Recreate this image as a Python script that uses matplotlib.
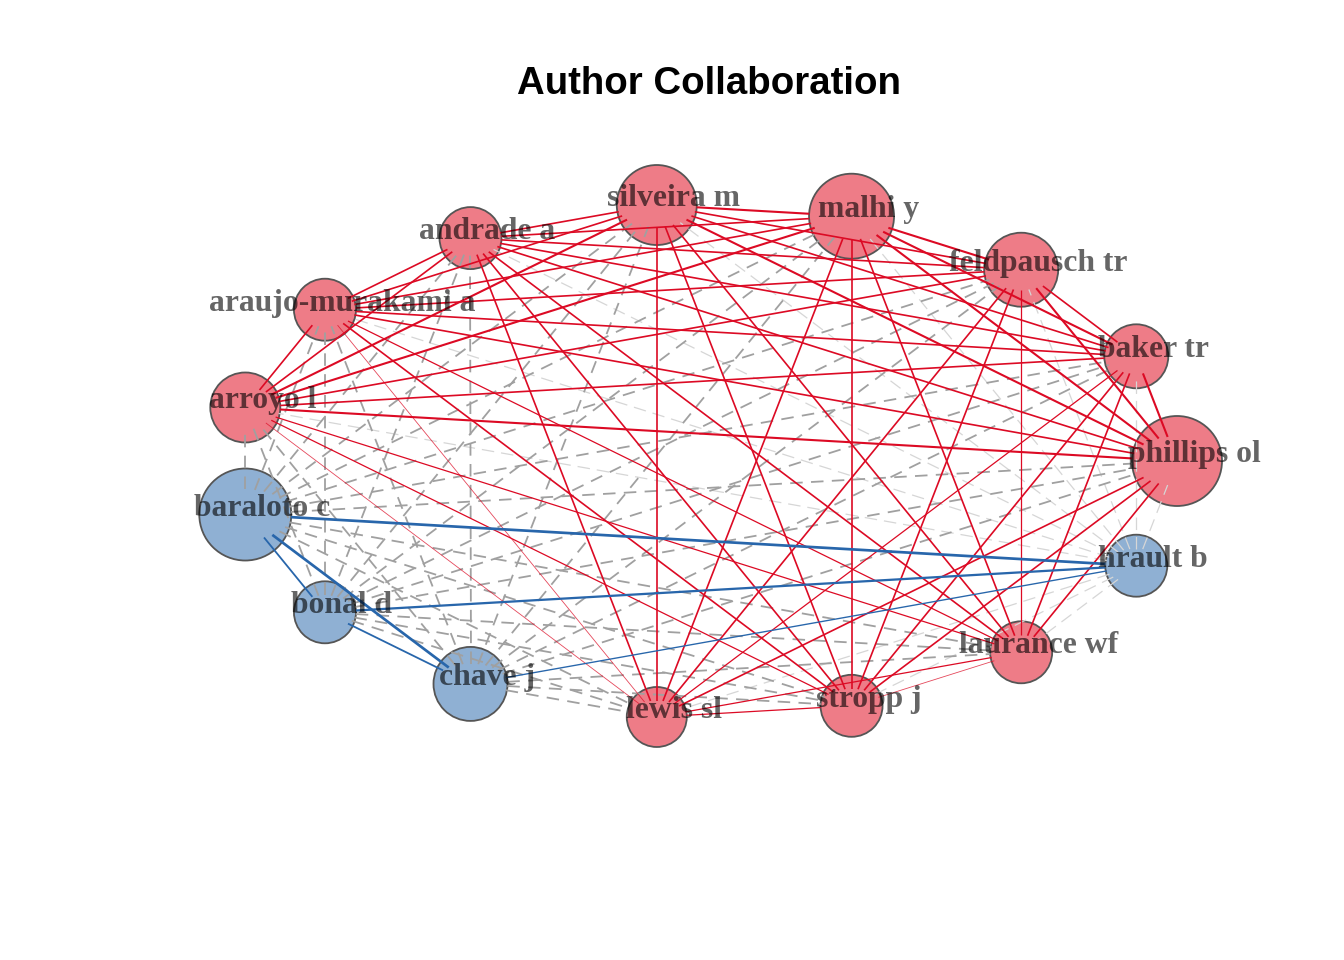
import numpy as np
import matplotlib
matplotlib.use("Agg")
import matplotlib.pyplot as plt

plt.rcParams['lines.scale_dashes'] = False

# ---- data ----
names = ["phillips ol", "hrault b", "laurance wf", "stropp j", "lewis sl",
         "chave j", "bonal d", "baraloto c", "arroyo l", "araujo-murakami a",
         "andrade a", "silveira m", "malhi y", "feldpausch tr", "baker tr"]
groups = ["R", "B", "R", "R", "R", "B", "B", "B", "R", "R", "R", "R", "R", "R", "R"]
node_size = [45, 31, 31, 31, 30, 37, 31, 46, 35, 31, 31, 40, 42.5, 37, 32]

# within-cluster edges (red community)
red_edges = [
    (0, 2, 2), (0, 3, 2), (0, 4, 2), (0, 8, 2.5), (0, 9, 2), (0, 10, 2), (0, 11, 2.5), (0, 12, 2.5), (0, 13, 2.5), (0, 14, 2.5),
    (2, 3, 1), (2, 4, 1.5), (2, 8, 1.5), (2, 9, 1.5), (2, 10, 2), (2, 11, 2), (2, 12, 2), (2, 13, 1.5), (2, 14, 2),
    (3, 4, 1.5), (3, 8, 1.5), (3, 9, 2), (3, 10, 2), (3, 11, 2), (3, 12, 2), (3, 13, 2), (3, 14, 2),
    (4, 8, 1), (4, 9, 1), (4, 10, 2), (4, 11, 2), (4, 12, 2), (4, 13, 2), (4, 14, 1.5),
    (8, 9, 2), (8, 10, 2), (8, 11, 2.5), (8, 12, 2.5), (8, 13, 2), (8, 14, 2),
    (9, 10, 2), (9, 11, 2), (9, 12, 2), (9, 13, 2), (9, 14, 2),
    (10, 11, 2), (10, 12, 2), (10, 13, 2), (10, 14, 2),
    (11, 12, 2.5), (11, 13, 2), (11, 14, 2),
    (12, 13, 2.5), (12, 14, 2.5),
    (13, 14, 2),
]
# within-cluster edges (blue community)
blue_edges = [(7, 1, 3), (7, 5, 3), (7, 6, 2), (6, 1, 2.5), (6, 5, 2), (5, 1, 1.5)]

# between-cluster edges (weight 1 = regular, 0.5 = weak)
between_edges = [
    (1, 0, 0.5), (1, 2, 0.5), (1, 3, 0.5), (1, 4, 0.5), (1, 8, 0.5), (1, 9, 0.5),
    (1, 10, 0.5), (1, 11, 0.5), (1, 12, 0.5), (1, 13, 0.5), (1, 14, 0.5),
    (5, 0, 1), (5, 2, 1), (5, 3, 1), (5, 4, 1), (5, 8, 1), (5, 9, 1),
    (5, 10, 1), (5, 11, 1), (5, 12, 1), (5, 13, 1), (5, 14, 1),
    (6, 0, 1), (6, 2, 1), (6, 3, 1), (6, 4, 1), (6, 8, 1), (6, 9, 1),
    (6, 10, 1), (6, 11, 1), (6, 12, 1), (6, 13, 1), (6, 14, 1),
    (7, 0, 1), (7, 2, 1), (7, 3, 1), (7, 4, 1), (7, 8, 1), (7, 9, 1),
    (7, 10, 1), (7, 11, 1), (7, 12, 1), (7, 13, 1), (7, 14, 1),
]

title = "Author Collaboration"

# ---- styles ----
node_fill = {"R": "#EE7C87", "B": "#8FB0D3"}
edge_col = {"R": "#DC0A24", "B": "#2866AB"}

fig = plt.figure(figsize=(13.44, 9.6), dpi=100)
ax = fig.add_axes([0, 0, 1, 1])
cx, cy, rx, ry = 706, 461, 471, 257.4
ax.set_xlim(-cx / rx, (1344 - cx) / rx)
ax.set_ylim(-(960 - cy) / ry, cy / ry)
ax.axis('off')

n = len(names)
ang = np.deg2rad(-24.0 * np.arange(n))
X = np.cos(ang)
Y = np.sin(ang)

P = ax.transData.transform(np.c_[X, Y])
ratio = ry / rx


def clip_dist(r, u):
    a, b = r, r * ratio
    return 1.0 / np.sqrt((u[0] / a) ** 2 + (u[1] / b) ** 2)


def draw_edge(i, j, lw, color, dashes=None, z=3, alpha=1.0):
    d = P[j] - P[i]
    u = d / np.linalg.norm(d)
    p1 = P[i] + u * clip_dist(node_size[i], u)
    p2 = P[j] - u * clip_dist(node_size[j], u)
    pts = ax.transData.inverted().transform(np.vstack([p1, p2]))
    kw = dict(color=color, lw=lw, zorder=z, alpha=alpha, solid_capstyle='butt')
    if dashes is not None:
        kw['dashes'] = dashes
        kw['dash_capstyle'] = 'butt'
    ax.plot(pts[:, 0], pts[:, 1], **kw)


# nodes
sizes = [(2 * r * 0.72) ** 2 for r in node_size]
ax.scatter(X, Y, s=sizes, c=[node_fill[g] for g in groups],
           edgecolors='#555555', linewidths=1.3, zorder=2)

# between edges
for i, j, w in between_edges:
    if w < 1:
        draw_edge(i, j, 0.9, '#D6D6D6', dashes=(9, 5), z=3)
    else:
        draw_edge(i, j, 1.3, '#A0A0A0', dashes=(9, 6), z=3)

# red edges
for i, j, w in red_edges:
    draw_edge(i, j, 0.6 * w, edge_col["R"], z=4, alpha=0.75 if w <= 1 else 1.0)

# blue edges
for i, j, w in blue_edges:
    draw_edge(i, j, 0.65 * w, edge_col["B"], z=4)

# labels
for k, name in enumerate(names):
    ax.annotate(name, (X[k], Y[k]), xytext=(17 * 0.72, -1 * 0.72),
                textcoords='offset points', ha='center', va='baseline',
                fontsize=22.8, family='Liberation Serif', fontweight='bold',
                color='black', alpha=0.6, zorder=6)

fig.text(709 / 1344, 1 - 94 / 960, title, ha='center', va='baseline',
         fontsize=27.6, fontweight='bold', family='Liberation Sans')

fig.savefig('out.png', dpi=100)
